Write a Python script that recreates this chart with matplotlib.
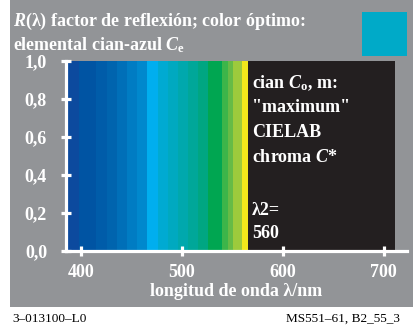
import numpy as np
import matplotlib.pyplot as plt
from matplotlib.patches import Rectangle

plt.rcParams['font.family'] = ['Liberation Serif', 'DejaVu Serif']
plt.rcParams['mathtext.fontset'] = 'custom'
plt.rcParams['mathtext.rm'] = 'Liberation Serif:bold'
plt.rcParams['mathtext.it'] = 'Liberation Serif:italic:bold'
plt.rcParams['mathtext.bf'] = 'Liberation Serif:bold'

# spectral bands shown as colour strips (nm)
band_lo = [385, 398, 415, 426, 436, 446, 456, 465, 476, 486, 496, 506, 516, 526, 540, 546, 551, 560]
band_hi = [398, 415, 426, 436, 446, 456, 465, 476, 486, 496, 506, 516, 526, 540, 546, 551, 560, 565]
band_colors = ['#0c4a9e', '#0054a3', '#005ca9', '#0064ae', '#006fb8', '#007cc3', '#0088cd',
               '#00aeef', '#00aad2', '#00a9c0', '#00a8ad', '#00a799', '#00a682', '#00a651',
               '#3cb54a', '#66bb46', '#9dca3c', '#f2e81c']
# remaining part of the spectrum: reflectance 0, drawn black
dark_lo, dark_hi = 565, 711

xticks = [400, 500, 600, 700]
yticks = [0.0, 0.2, 0.4, 0.6, 0.8, 1.0]
ytick_labels = ['0,0', '0,2', '0,4', '0,6', '0,8', '1,0']

W, H = 413, 331
gray = '#929497'


def fx(x):
    return x / W


def fy(y):
    return 1 - y / H


fig = plt.figure(figsize=(W / 100, H / 100), dpi=100)
fig.patches.append(Rectangle((fx(10), fy(307)), 1, 307 / H, transform=fig.transFigure,
                             facecolor=gray, edgecolor='none', zorder=-10))
# colour swatch top right
fig.patches.append(Rectangle((fx(362), fy(56)), 45 / W, 44 / H, transform=fig.transFigure,
                             facecolor='#00aac8', edgecolor='none', zorder=-5))

ax = fig.add_axes([fx(65.8), fy(250.5), (407 - 65.8) / W, (250.5 - 61) / H])
ax.set_facecolor('none')
ax.set_zorder(2)

widths = np.array(band_hi) - np.array(band_lo)
ax.bar(band_lo, [1.0] * len(band_lo), width=widths, align='edge', color=band_colors,
       edgecolor='none', linewidth=0)
ax.bar(dark_lo, 1.0, width=dark_hi - dark_lo, align='edge', color='#231f20', edgecolor='none')

ax.set_xlim(385, 723)
ax.set_ylim(0, 1)
for s in ['top', 'right']:
    ax.spines[s].set_visible(False)
for s in ['left', 'bottom']:
    ax.spines[s].set_color('white')
    ax.spines[s].set_linewidth(2.3)
    ax.spines[s].set_zorder(5)

ax.set_xticks(xticks)
ax.set_yticks(yticks)
ax.set_yticklabels(ytick_labels)
ax.tick_params(axis='both', direction='inout', colors='white', width=2.3, length=7,
               labelsize=13, labelcolor='white')
ax.tick_params(axis='y', pad=10)
ax.tick_params(axis='x', pad=6)
for lab in ax.get_xticklabels() + ax.get_yticklabels():
    lab.set_fontweight('bold')

ax.set_xlabel('longitud de onda λ/nm', color='white', fontsize=13, fontweight='bold',
              labelpad=2)

fig.text(fx(13), fy(26), r'$R$(λ) factor de reflexión; color óptimo:', color='white',
         fontsize=13, fontweight='bold', ha='left', va='baseline')
fig.text(fx(13), fy(50), r'elemental cian-azul $C_\mathrm{e}$', color='white',
         fontsize=13, fontweight='bold', ha='left', va='baseline')

box_lines = [(88, r'cian $C_\mathrm{o}$, m:'), (112, '"maximum"'), (137, 'CIELAB'),
             (162, r'chroma $C$*'), (215, 'λ2='), (238, '560')]
for y, s in box_lines:
    fig.text(fx(252), fy(y), s, color='white', fontsize=13, fontweight='bold',
             ha='left', va='baseline', zorder=10)

fig.text(fx(12), fy(322), '3–013100–L0', color='black', fontsize=9.5, ha='left',
         va='baseline')
fig.text(fx(400), fy(322), 'MS551–61, B2_55_3', color='black', fontsize=9.5, ha='right',
         va='baseline')

fig.savefig('out.png', dpi=100, facecolor='white')
